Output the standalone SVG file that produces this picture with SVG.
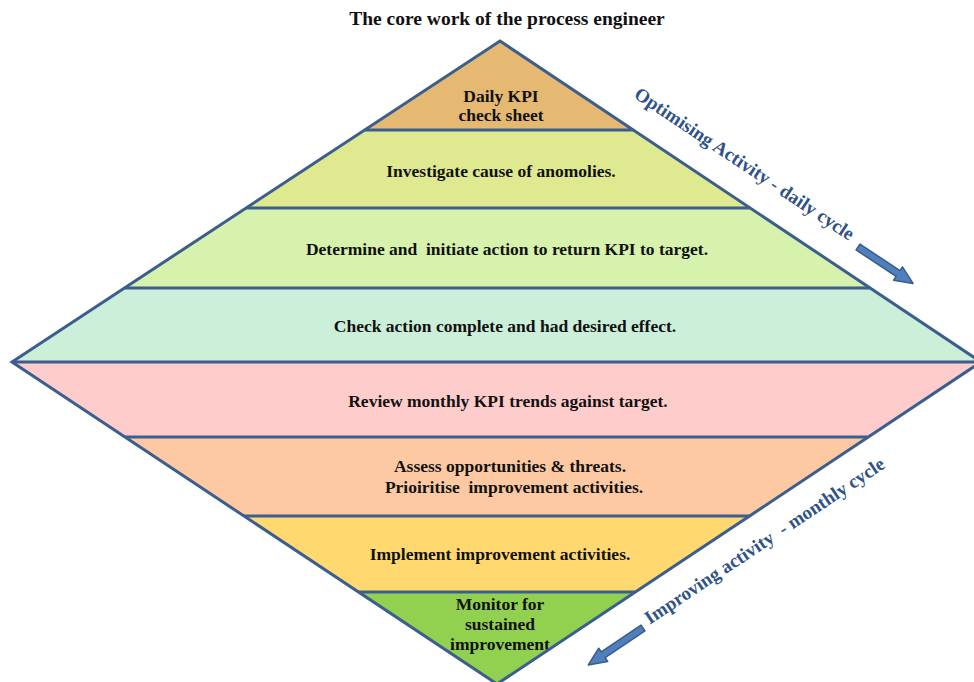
<svg xmlns="http://www.w3.org/2000/svg" width="974" height="682" viewBox="0 0 974 682">
<style>
.t{font-family:"Liberation Serif","Times New Roman",serif;font-weight:bold;font-size:17.5px;fill:#111;text-anchor:middle;white-space:pre}
.title{font-size:19.5px}
.side{font-family:"Liberation Serif","Times New Roman",serif;font-weight:bold;font-size:19px;fill:#2F5288;text-anchor:middle;white-space:pre}
.div{stroke:#3C5E8E;stroke-width:3;fill:none}
.arrow{fill:#4F7FBD;stroke:#385D8A;stroke-width:1.5;stroke-linejoin:round}
</style>
<rect width="974" height="682" fill="#fff"/>
<text class="t title" x="507" y="25">The core work of the process engineer</text>
<g id="daily-kpi">
<polygon points="500,41 633.4,130 364.7,130" fill="#E6B972"/>
<text class="t" x="501" y="102">Daily KPI</text>
<text class="t" x="501" y="121">check sheet</text>
</g>
<g id="investigate">
<polygon points="364.7,130 633.4,130 750.2,208 246.1,208" fill="#DFE98F"/>
<text class="t" x="501" y="177">Investigate cause of anomolies.</text>
</g>
<g id="determine">
<polygon points="246.1,208 750.2,208 870.1,288 124.5,288" fill="#D6F2AD"/>
<text class="t" x="507" y="255" xml:space="preserve">Determine and  initiate action to return KPI to target.</text>
</g>
<g id="check">
<polygon points="124.5,288 870.1,288 981,362 12,362" fill="#CCEFDA"/>
<text class="t" x="505" y="332">Check action complete and had desired effect.</text>
</g>
<g id="review">
<polygon points="12,362 981,362 868.3,437 125,437" fill="#FFCCCC"/>
<text class="t" x="508" y="407">Review monthly KPI trends against target.</text>
</g>
<g id="assess">
<polygon points="125,437 868.3,437 749.5,516 244,516" fill="#FDC9A3"/>
<text class="t" x="510" y="472">Assess opportunities &amp; threats.</text>
<text class="t" x="514" y="493" xml:space="preserve">Prioiritise  improvement activities.</text>
</g>
<g id="implement">
<polygon points="244,516 749.5,516 635.3,592 358.4,592" fill="#FFD970"/>
<text class="t" x="500" y="560">Implement improvement activities.</text>
</g>
<g id="monitor">
<polygon points="358.4,592 635.3,592 497,684" fill="#92D050"/>
<text class="t" x="500" y="610">Monitor for</text>
<text class="t" x="500" y="630">sustained</text>
<text class="t" x="500" y="650">improvement</text>
</g>
<g id="connectors">
<polygon class="div" points="500,41 981,362 497,684 12,362"/>
<line class="div" x1="364.7" y1="130" x2="633.4" y2="130"/>
<line class="div" x1="246.1" y1="208" x2="750.2" y2="208"/>
<line class="div" x1="124.5" y1="288" x2="870.1" y2="288"/>
<line class="div" x1="12" y1="362" x2="981" y2="362"/>
<line class="div" x1="125" y1="437" x2="868.3" y2="437"/>
<line class="div" x1="244" y1="516" x2="749.5" y2="516"/>
<line class="div" x1="358.4" y1="592" x2="635.3" y2="592"/>
<polygon class="arrow" transform="translate(858,247) rotate(33.5)" points="0,-3.5 48,-3.5 48,-8 66,0 48,8 48,3.5 0,3.5"/>
<polygon class="arrow" transform="translate(643,628) rotate(146)" points="0,-3.5 48,-3.5 48,-8 66,0 48,8 48,3.5 0,3.5"/>
</g>
<text class="side" transform="translate(741,169) rotate(33.7)">Optimising Activity - daily cycle</text>
<text class="side" transform="translate(768,546) rotate(-33.7)" xml:space="preserve">Improving activity  - monthly cycle</text>
</svg>
